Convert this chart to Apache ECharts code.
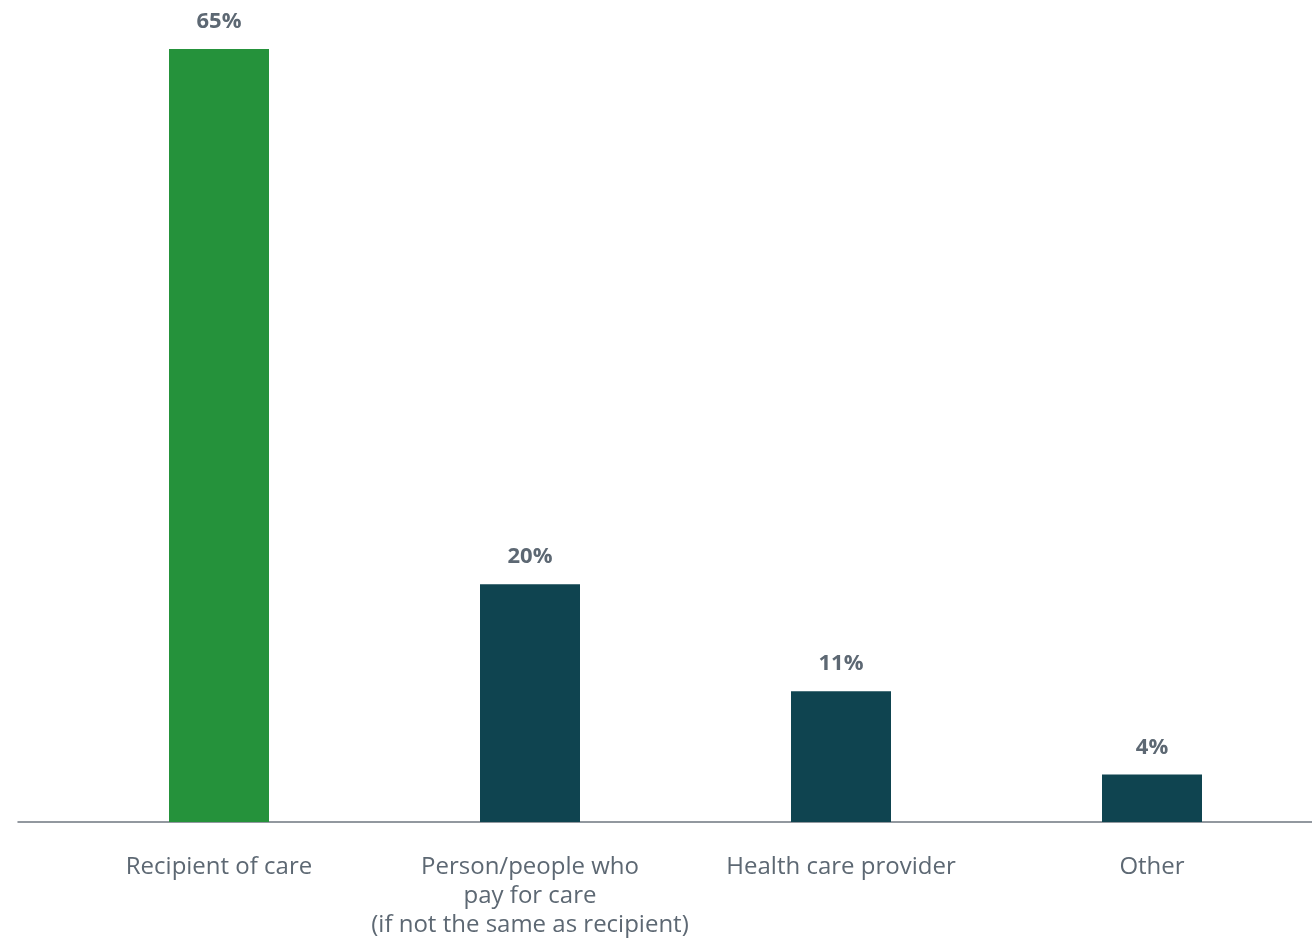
<!DOCTYPE html>
<html>
<head>
<meta charset="utf-8">
<style>
  html, body { margin: 0; padding: 0; background: #ffffff; }
  #chart { width: 1312px; height: 938px; }
</style>
<script src="https://cdn.jsdelivr.net/npm/echarts@6/dist/echarts.min.js"></script>
</head>
<body>
<div id="chart"></div>
<script>
// Who makes the decision about care — share of respondents (%)
const categories = [
  'Recipient of care',
  'Person/people who\npay for care\n(if not the same as recipient)',
  'Health care provider',
  'Other'
];
const values = [65, 20, 11, 4];
const barColors = ['#25923b', '#0f4450', '#0f4450', '#0f4450'];

const textGray = '#5d6873';
const fontFamily = '"Open Sans", "Noto Sans", sans-serif';

const chart = echarts.init(document.getElementById('chart'), null, { renderer: 'canvas' });

chart.setOption({
  animation: false,
  backgroundColor: '#ffffff',
  grid: [
    { left: 63.5, right: 4.5, top: 49, bottom: 116, outerBoundsMode: 'none', containLabel: false },
    // baseline rule spanning the full width
    { left: 18, right: 0, top: 49, bottom: 116, outerBoundsMode: 'none', containLabel: false }
  ],
  xAxis: [
    {
      gridIndex: 0,
      type: 'category',
      data: categories,
      axisLine: { show: false },
      axisTick: { show: false },
      axisLabel: {
        color: textGray,
        fontFamily: fontFamily,
        fontSize: 24,
        lineHeight: 29,
        margin: 31,
        interval: 0
      }
    },
    {
      gridIndex: 1,
      type: 'value',
      min: 0,
      max: 1,
      axisLine: { show: true, lineStyle: { color: '#6f7780', width: 1.5 } },
      axisTick: { show: false },
      axisLabel: { show: false },
      splitLine: { show: false }
    }
  ],
  yAxis: [
    {
      gridIndex: 0,
      type: 'value',
      min: 0,
      max: 65,
      show: false
    },
    {
      gridIndex: 1,
      type: 'value',
      min: 0,
      max: 1,
      show: false
    }
  ],
  series: [
    {
      type: 'bar',
      xAxisIndex: 0,
      yAxisIndex: 0,
      barWidth: 100,
      data: values.map((v, i) => ({ value: v, itemStyle: { color: barColors[i] } })),
      label: {
        show: true,
        position: 'top',
        distance: 16,
        formatter: '{c}%',
        color: textGray,
        fontFamily: fontFamily,
        fontWeight: 'bold',
        fontSize: 22
      }
    }
  ]
});
</script>
</body>
</html>
